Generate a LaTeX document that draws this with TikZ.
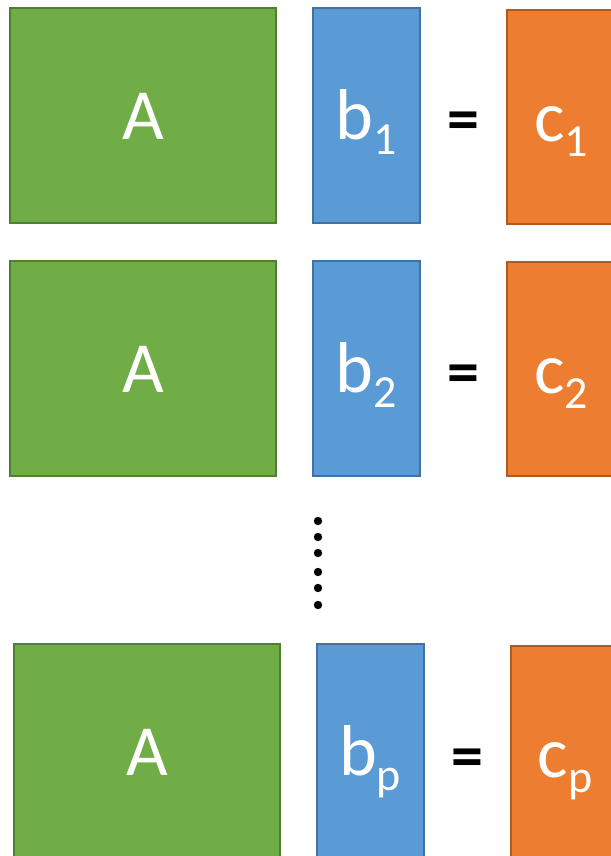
\documentclass[tikz,border=0pt]{standalone}
\usepackage{fontspec}
\setmainfont{Carlito}
\definecolor{gfill}{HTML}{70AD47}
\definecolor{gline}{HTML}{507E32}
\definecolor{bfill}{HTML}{5B9BD5}
\definecolor{bline}{HTML}{41719C}
\definecolor{ofill}{HTML}{ED7D31}
\definecolor{oline}{HTML}{AE5A21}
\newcommand{\bigtxt}{\fontsize{72}{72}\selectfont}
\newcommand{\subtxt}[1]{\raisebox{-15pt}{\fontsize{46}{46}\selectfont #1}}
\tikzset{
  mbox/.style={rectangle, line width=2pt, inner sep=0pt, text=white,
    font=\bigtxt, text height=48pt, text depth=0pt},
  abox/.style={mbox, fill=gfill, draw=gline, minimum width=266pt, minimum height=215pt},
  bbox/.style={mbox, fill=bfill, draw=bline, minimum width=107pt, minimum height=215pt},
  cbox/.style={mbox, fill=ofill, draw=oline, minimum width=108pt, minimum height=214pt},
  eqsign/.style={inner sep=0pt, font=\fontsize{64}{64}\selectfont\bfseries, text=black},
  vdot/.style={fill=black}
}
\begin{document}
\begin{tikzpicture}[x=1pt,y=-1pt]
\useasboundingbox (0,0) rectangle (610,856);
% row 1
\node[abox] (A1) at (143,115.5) {A};
\node[bbox] (B1) at (366.5,115.5) {b\subtxt{1}};
\node[eqsign] (E1) at (463,126) {=};
\node[cbox] (C1) at (561,117) {c\subtxt{1}};
% row 2
\node[abox] (A2) at (143,368) {A};
\node[bbox] (B2) at (366.5,368) {b\subtxt{2}};
\node[eqsign] (E2) at (463,379) {=};
\node[cbox] (C2) at (561,369) {c\subtxt{2}};
% dots
\foreach \yy in {521,537,553,572,588,605} \fill[vdot] (318,\yy) circle (4.2);
% row p
\node[abox] (A3) at (147,751.5) {A};
\node[bbox] (B3) at (370,751.5) {b\subtxt{p}};
\node[eqsign] (E3) at (467,763) {=};
\node[cbox] (C3) at (565,753) {c\subtxt{p}};
\end{tikzpicture}
\end{document}
